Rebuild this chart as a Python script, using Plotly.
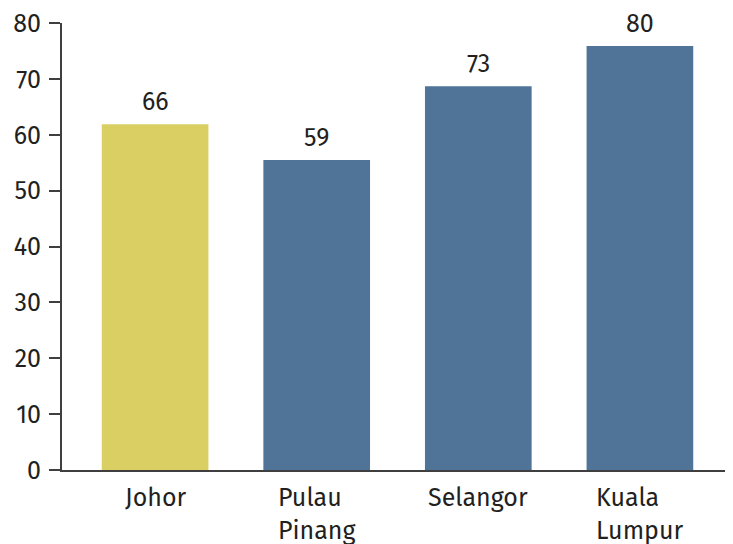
import plotly.graph_objects as go

categories = ["Johor", "Pulau<br>Pinang", "Selangor", "Kuala<br>Lumpur"]
bar_values = [61.9, 55.5, 68.7, 75.9]
value_labels = ["66", "59", "73", "80"]
bar_colors = ["#D9CF62", "#507497", "#507497", "#507497"]
y_ticks = [0, 10, 20, 30, 40, 50, 60, 70, 80]

FONT = "Fira Sans, Open Sans, sans-serif"
TXT = "#231F20"
AX = "#3F3F3F"
FS = 25

fig = go.Figure()
fig.add_trace(go.Bar(
    x=list(range(len(categories))),
    y=bar_values,
    marker=dict(color=bar_colors, line=dict(width=0)),
    width=0.66,
    hoverinfo="skip",
))

annotations = []
for i, (v, lab) in enumerate(zip(bar_values, value_labels)):
    annotations.append(dict(
        x=i, y=v, xref="x", yref="y", text=lab, showarrow=False,
        yanchor="bottom", yshift=5,
        font=dict(family=FONT, size=FS, color=TXT),
    ))
for i, cat in enumerate(categories):
    annotations.append(dict(
        x=i, y=0, xref="x", yref="y", text=cat, showarrow=False,
        yanchor="top", yshift=-11, align="left",
        font=dict(family=FONT, size=FS, color=TXT),
    ))

fig.update_layout(
    width=725, height=536,
    margin=dict(l=54, r=0, t=15, b=74),
    paper_bgcolor="white", plot_bgcolor="white",
    showlegend=False,
    annotations=annotations,
    xaxis=dict(
        range=[-0.576, 3.576],
        showticklabels=False, ticks="",
        showgrid=False, zeroline=False,
        showline=True, linecolor=AX, linewidth=2,
    ),
    yaxis=dict(
        range=[0, 80],
        tickvals=y_ticks,
        ticks="outside", ticklen=11, tickwidth=2, tickcolor=AX,
        ticklabelstandoff=3,
        showgrid=False, zeroline=False,
        showline=True, linecolor=AX, linewidth=2,
        tickfont=dict(family=FONT, size=FS, color=TXT),
    ),
)

fig.write_html("out.html")
